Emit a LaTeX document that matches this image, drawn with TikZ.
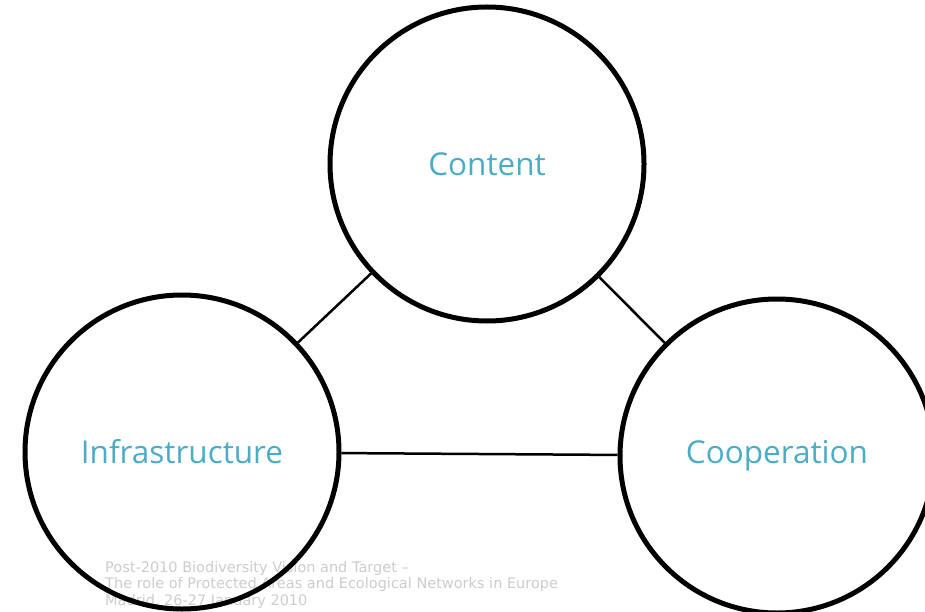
\documentclass[tikz,border=0pt]{standalone}
\usepackage{fontspec}
\setmainfont{Open Sans}
\newfontfamily\footfont{DejaVu Sans}
\definecolor{teal1}{HTML}{4BACC6}
\begin{document}
\begin{tikzpicture}[x=1pt,y=-1pt,
  bubble/.style={circle,draw=black,line width=5pt,minimum size=314pt,inner sep=0pt,
    font=\fontsize{31.5}{36}\selectfont,text=teal1},
  link/.style={draw=black,line width=2.5pt}]
\useasboundingbox (0,0) rectangle (925,612);
\node[anchor=north west,align=left,font=\footfont\fontsize{14.5}{16.5}\selectfont,text=black!20,inner sep=0pt] (foot) at (105,561)
 {Post-2010 Biodiversity Vision and Target –\\The role of Protected Areas and Ecological Networks in Europe\\Madrid, 26-27 January 2010};
\node[bubble] (content) at (487,164) {Content};
\node[bubble] (infra) at (182,452) {Infrastructure};
\node[bubble] (coop) at (777,456) {Cooperation};
\draw[link] (content) -- (infra);
\draw[link] (content) -- (coop);
\draw[link] (infra) -- (coop);
\end{tikzpicture}
\end{document}
